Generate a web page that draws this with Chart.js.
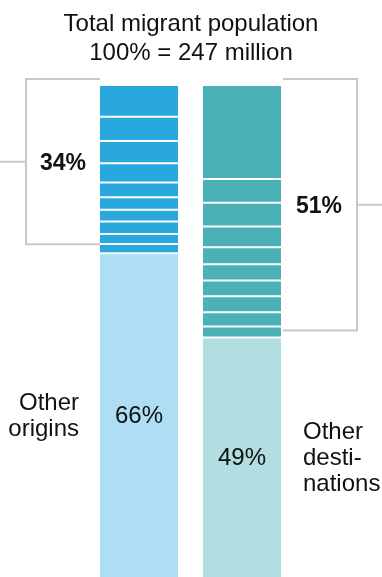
<!DOCTYPE html>
<html>
<head>
<meta charset="utf-8">
<script src="https://cdn.jsdelivr.net/npm/chart.js@4/dist/chart.umd.min.js"></script>
<style>
html,body{margin:0;padding:0;background:#fff;}
#wrap{width:382px;height:577px;position:relative;}
</style>
</head>
<body>
<div id="wrap"><canvas id="c"></canvas></div>
<script>
const categories = ["Origins", "Destinations"];
const titleLines = ["Total migrant population", "100% = 247 million"];
// Top-10 segments, listed from top of bar downwards (% of total)
const originTop10 = [6.4, 4.9, 4.5, 3.9, 3.0, 2.5, 2.4, 2.5, 2.0, 1.9];
const destTop10 = [19.0, 4.8, 4.8, 4.2, 3.4, 3.3, 3.2, 3.2, 2.9, 2.2];
const otherShare = [66, 49];
const topShare = [34, 51];
const otherLabels = [["Other", "origins"], ["Other", "desti-", "nations"]];

const darkColors = ["#29a8de", "#4bb1b9"];
const lightColors = ["#aeddf4", "#b2dee1"];

const datasets = [];
datasets.push({
  label: "Other",
  data: otherShare,
  backgroundColor: lightColors,
  borderColor: "#ffffff",
  borderWidth: {top: 1, bottom: 0, left: 0, right: 0},
  borderSkipped: false
});
// stack bottom-up: reverse the top-down lists
for (let i = originTop10.length - 1; i >= 0; i--) {
  datasets.push({
    label: "Segment " + (i + 1),
    data: [originTop10[i], destTop10[i]],
    backgroundColor: darkColors,
    borderColor: "#ffffff",
    borderWidth: {top: 1, bottom: 1, left: 0, right: 0},
    borderSkipped: false
  });
}

const FONT = '"Liberation Sans", Arial, Helvetica, sans-serif';

const annot = {
  id: "annot",
  afterDatasetsDraw(chart) {
    const ctx = chart.ctx;
    const y = chart.scales.y;
    const meta = chart.getDatasetMeta(0);
    const b0 = meta.data[0], b1 = meta.data[1];
    const lx0 = b0.x - b0.width / 2, rx1 = b1.x + b1.width / 2;
    const top = y.getPixelForValue(100);
    ctx.save();
    // title
    ctx.fillStyle = "#111";
    ctx.textAlign = "center";
    ctx.textBaseline = "alphabetic";
    ctx.font = "24px " + FONT;
    const cx = chart.width / 2;
    ctx.fillText(titleLines[0], cx, 31);
    ctx.fillText(titleLines[1], cx, 60);

    // brackets
    ctx.strokeStyle = "#c8c8c8";
    ctx.lineWidth = 2;
    const bTop = top - 6;
    // left
    const lBot = y.getPixelForValue(100 - topShare[0]) - 9;
    const lvx = lx0 - 74;
    ctx.beginPath();
    ctx.moveTo(lx0, bTop); ctx.lineTo(lvx, bTop); ctx.lineTo(lvx, lBot); ctx.lineTo(lx0, lBot);
    const lMid = (bTop + lBot) / 2;
    ctx.moveTo(lvx, lMid); ctx.lineTo(0, lMid);
    ctx.stroke();
    // right
    const rBot = y.getPixelForValue(100 - topShare[1]) - 7;
    const rvx = rx1 + 76;
    ctx.beginPath();
    ctx.moveTo(rx1 + 2, bTop); ctx.lineTo(rvx, bTop); ctx.lineTo(rvx, rBot); ctx.lineTo(rx1 + 2, rBot);
    const rMid = (bTop + rBot) / 2;
    ctx.moveTo(rvx, rMid); ctx.lineTo(chart.width, rMid);
    ctx.stroke();

    // bracket labels
    ctx.fillStyle = "#111";
    ctx.font = "bold 23px " + FONT;
    ctx.textAlign = "center";
    ctx.textBaseline = "middle";
    ctx.fillText(topShare[0] + "%", (lvx + lx0) / 2, lMid + 2);
    ctx.fillText(topShare[1] + "%", (rvx + rx1) / 2, rMid + 2);

    // other share labels
    ctx.font = "24px " + FONT;
    const bottomPx = y.getPixelForValue(0);
    const m0 = (y.getPixelForValue(otherShare[0]) + bottomPx) / 2;
    const m1 = (y.getPixelForValue(otherShare[1]) + bottomPx) / 2;
    ctx.fillText(otherShare[0] + "%", b0.x, m0);
    ctx.fillText(otherShare[1] + "%", b1.x, m1);

    ctx.textAlign = "right";
    otherLabels[0].forEach((t, i) => {
      ctx.fillText(t, lx0 - 21, m0 - 13 + i * 26);
    });
    ctx.textAlign = "left";
    otherLabels[1].forEach((t, i) => {
      ctx.fillText(t, rx1 + 22, m1 - 26 + i * 26);
    });
    ctx.restore();
  }
};

new Chart(document.getElementById("c"), {
  type: "bar",
  data: { labels: categories, datasets: datasets },
  options: {
    responsive: true,
    maintainAspectRatio: false,
    animation: false,
    layout: { padding: { left: 87.5, right: 88.5, top: 85, bottom: 0 } },
    datasets: { bar: { barPercentage: 78 / 103, categoryPercentage: 1 } },
    plugins: { legend: { display: false }, tooltip: { enabled: false }, title: { display: false } },
    scales: {
      x: { stacked: true, display: false },
      y: { stacked: true, display: false, min: 0.6, max: 100 }
    }
  },
  plugins: [annot]
});
</script>
</body>
</html>
